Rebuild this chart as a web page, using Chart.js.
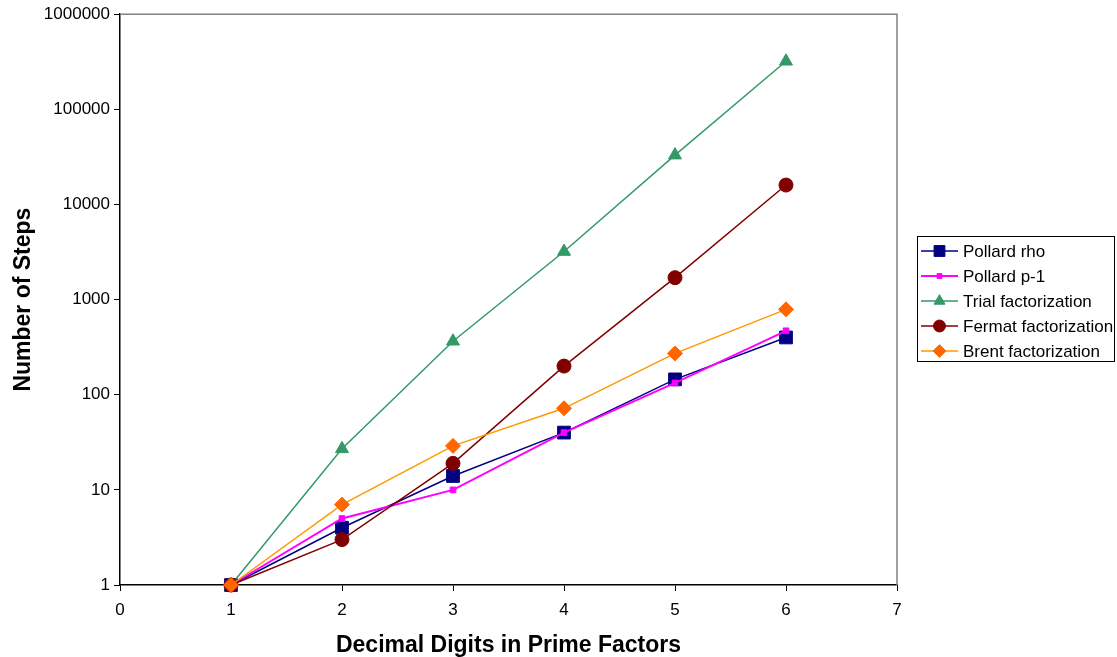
<!DOCTYPE html>
<html>
<head>
<meta charset="utf-8">
<script src="https://cdn.jsdelivr.net/npm/chart.js@4/dist/chart.umd.min.js"></script>
<style>
  html, body { margin: 0; padding: 0; background: #fff; }
  #wrap { width: 1117px; height: 657px; }
</style>
</head>
<body>
<div id="wrap"><canvas id="chart" width="1117" height="657"></canvas></div>
<script>
// Werte
const digits = [1, 2, 3, 4, 5, 6];
const pollardRho = [1, 4, 14, 40, 145, 400];
const pollardP1 = [1, 5, 10, 40, 133, 470];
const trialFact = [1, 27, 365, 3200, 33000, 320000];
const fermatFact = [1, 3, 19, 200, 1700, 16000];
const brentFact = [1, 7, 29, 72, 272, 790];
const yTicks = [1, 10, 100, 1000, 10000, 100000, 1000000];
const xTicks = [0, 1, 2, 3, 4, 5, 6, 7];

function toPoints(values) {
    return digits.map((d, i) => ({ x: d, y: values[i] }));
}

const series = [
    { label: "Pollard rho", data: pollardRho, line: "#000080", fill: "#000080", style: "rect", r: 9, w: 1.5, order: 5 },
    { label: "Pollard p-1", data: pollardP1, line: "#FF00FF", fill: "#FF00FF", style: "rect", r: 4, w: 2, order: 4 },
    { label: "Trial factorization", data: trialFact, line: "#339966", fill: "#339966", style: "triangle", r: 7.5, w: 1.5, order: 3 },
    { label: "Fermat factorization", data: fermatFact, line: "#800000", fill: "#800000", style: "circle", r: 7, w: 1.5, order: 2 },
    { label: "Brent factorization", data: brentFact, line: "#FF9900", fill: "#FF6600", style: "rectRot", r: 7.5, w: 1.5, order: 1 }
];

const datasets = series.map(s => ({
    label: s.label,
    data: toPoints(s.data),
    borderColor: s.line,
    backgroundColor: s.fill,
    pointBackgroundColor: s.fill,
    pointBorderColor: s.fill,
    pointStyle: s.style,
    pointRadius: s.r,
    pointBorderWidth: 1,
    borderWidth: s.w,
    tension: 0,
    clip: false,
    order: s.order
}));

// grauer Rahmen oben und rechts
const framePlugin = {
    id: "frame",
    beforeDatasetsDraw(chart) {
        const a = chart.chartArea;
        const ctx = chart.ctx;
        ctx.save();
        ctx.strokeStyle = "#808080";
        ctx.lineWidth = 1.5;
        ctx.beginPath();
        ctx.moveTo(a.left, a.top);
        ctx.lineTo(a.right, a.top);
        ctx.lineTo(a.right, a.bottom);
        ctx.stroke();
        ctx.restore();
    }
};

// Legende mit Linie und Marker, wie im Original
const boxLegend = {
    id: "boxLegend",
    afterDraw(chart) {
        const ctx = chart.ctx;
        ctx.save();
        ctx.strokeStyle = "#000";
        ctx.lineWidth = 1;
        ctx.strokeRect(917.5, 236.5, 197, 125);
        ctx.font = "17px 'Liberation Sans', Arial, sans-serif";
        ctx.textBaseline = "middle";
        ctx.textAlign = "left";
        chart.data.datasets.forEach((ds, i) => {
            const y = 251 + i * 25;
            ctx.strokeStyle = ds.borderColor;
            ctx.lineWidth = ds.borderWidth;
            ctx.beginPath();
            ctx.moveTo(921, y);
            ctx.lineTo(958, y);
            ctx.stroke();
            ctx.fillStyle = ds.pointBackgroundColor;
            ctx.strokeStyle = ds.pointBorderColor;
            ctx.lineWidth = 1;
            Chart.helpers.drawPoint(ctx, {
                pointStyle: ds.pointStyle,
                radius: ds.pointRadius * 0.85,
                rotation: 0,
                borderWidth: 1
            }, 939.5, y);
            ctx.fillStyle = "#000";
            ctx.fillText(ds.label, 963, y + 1);
        });
        ctx.restore();
    }
};

new Chart(document.getElementById("chart"), {
    type: "line",
    data: { datasets: datasets },
    options: {
        responsive: false,
        animation: false,
        events: [],
        layout: { padding: { left: 0, top: 13, right: 220, bottom: 0 } },
        plugins: {
            legend: { display: false },
            tooltip: { enabled: false }
        },
        scales: {
            x: {
                type: "linear",
                min: 0,
                max: 7,
                afterBuildTicks: scale => { scale.ticks = xTicks.map(v => ({ value: v })); },
                afterFit: scale => { scale.height = 72; },
                border: { color: "#000", width: 1.5 },
                grid: { drawOnChartArea: false, drawTicks: true, tickLength: 6, color: "#000", lineWidth: 1 },
                ticks: {
                    color: "#000",
                    padding: 9,
                    font: { family: "'Liberation Sans', Arial, sans-serif", size: 17 }
                },
                title: {
                    display: true,
                    text: "Decimal Digits in Prime Factors",
                    color: "#000",
                    padding: { top: 0, bottom: -2 },
                    font: { family: "'Liberation Sans', Arial, sans-serif", size: 23, weight: "bold" }
                }
            },
            y: {
                type: "logarithmic",
                min: 1,
                max: 1000000,
                afterBuildTicks: scale => { scale.ticks = yTicks.map(v => ({ value: v })); },
                afterFit: scale => { scale.width = 120; },
                border: { color: "#000", width: 1.5 },
                grid: { drawOnChartArea: false, drawTicks: true, tickLength: 6, color: "#000", lineWidth: 1 },
                ticks: {
                    color: "#000",
                    padding: 4,
                    callback: v => String(v),
                    font: { family: "'Liberation Sans', Arial, sans-serif", size: 17 }
                },
                title: {
                    display: true,
                    text: "Number of Steps",
                    color: "#000",
                    padding: { top: 10, bottom: 0 },
                    font: { family: "'Liberation Sans', Arial, sans-serif", size: 23, weight: "bold" }
                }
            }
        }
    },
    plugins: [framePlugin, boxLegend]
});
</script>
</body>
</html>
